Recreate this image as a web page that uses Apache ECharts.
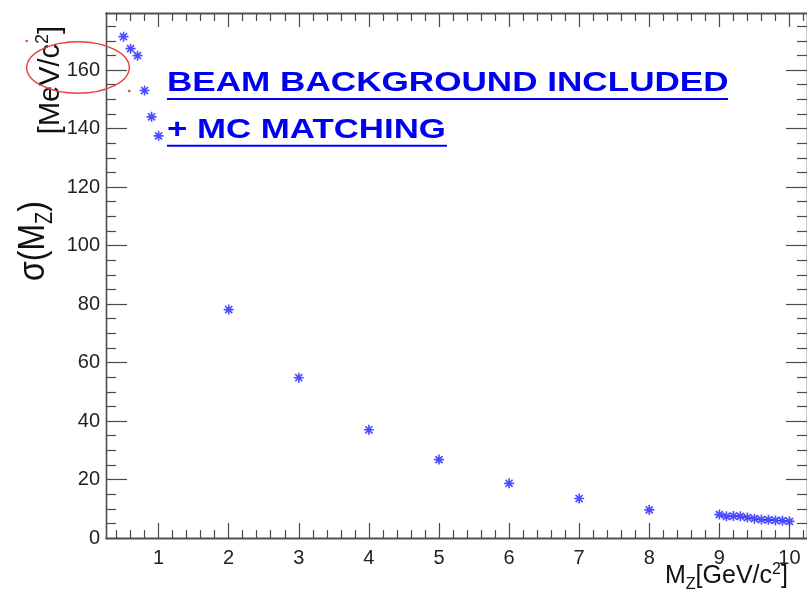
<!DOCTYPE html>
<html>
<head>
<meta charset="utf-8">
<title>sigma(M_Z) vs M_Z</title>
<script src="https://cdn.jsdelivr.net/npm/echarts@6/dist/echarts.min.js"></script>
<style>
  html, body { margin: 0; padding: 0; background: #fff; }
  #chart { width: 807px; height: 597px; }
</style>
</head>
<body>
<div id="chart"></div>
<script>
// Mass hypotheses [GeV/c^2] and the fitted resolution sigma(M_Z) [MeV/c^2]
const massValues = [0.5, 0.6, 0.7, 0.8, 0.9, 1.0, 2, 3, 4, 5, 6, 7, 8,
  9.0, 9.1, 9.2, 9.3, 9.4, 9.5, 9.6, 9.7, 9.8, 9.9, 10.0];
const sigmaValues = [171.4, 167.3, 164.9, 153.0, 144.0, 137.5, 78.1, 54.8, 37.0, 26.8, 18.7, 13.5, 9.6,
  8.0, 7.4, 7.5, 7.4, 7.0, 6.6, 6.3, 6.2, 6.0, 5.9, 5.7];

// Axis ranges and tick labels
const xRange = [0.25, 10.25];
const yRange = [0, 179.5];
const xTickLabels = [1, 2, 3, 4, 5, 6, 7, 8, 9, 10];
const yTickLabels = [0, 20, 40, 60, 80, 100, 120, 140, 160];

const FONT = '"Liberation Sans", Arial, Helvetica, sans-serif';
const AXIS_COLOR = '#4a4a4a';
const LABEL_COLOR = '#222';

// minor tick positions between the labelled ticks
function minorTicks(lo, hi, step, majorStep) {
  const out = [];
  const n = Math.round((hi - lo) / step);
  for (let i = 0; i <= n; i++) {
    const v = +(lo + i * step).toFixed(6);
    if (Math.abs(v / majorStep - Math.round(v / majorStep)) > 1e-6) out.push(v);
  }
  return out;
}
const xMinor = minorTicks(0.4, 10.2, 0.2, 1);
const yMinor = minorTicks(5, 175, 5, 20);

// ---- composite labels with sub/superscripts, aligned on a common baseline ----
const measureCtx = document.createElement('canvas').getContext('2d');
function textWidth(str, size, weight) {
  measureCtx.font = (weight || 'normal') + ' ' + size + 'px ' + FONT;
  return measureCtx.measureText(str).width;
}
const MID = 0.35; // distance from canvas 'middle' to the alphabetic baseline, in em
function composite(pieces, color, align) {
  let w = 0;
  pieces.forEach(p => { w += textWidth(p.text, p.size); });
  let x = align === 'center' ? -w / 2 : 0;
  const kids = [];
  pieces.forEach(p => {
    kids.push({
      type: 'text', x: x, y: -(p.rise || 0) - MID * p.size, silent: true,
      style: { text: p.text, fontSize: p.size, fontFamily: FONT, fill: color,
               textAlign: 'left', textVerticalAlign: 'middle' }
    });
    x += textWidth(p.text, p.size);
  });
  return kids;
}

const starPath = 'path://M-1,-6L1,-6L1,6L-1,6Z M-6,-1L6,-1L6,1L-6,1Z ' +
  'M-3.54,-4.95L4.95,3.54L3.54,4.95L-4.95,-3.54Z M4.95,-3.54L-3.54,4.95L-4.95,3.54L3.54,-4.95Z';

function xAxisDef(position, ticks, len, withLabels) {
  return {
    type: 'value', position: position, min: xRange[0], max: xRange[1],
    axisLine: { show: true, onZero: false, lineStyle: { color: AXIS_COLOR, width: 1.3 } },
    axisTick: { show: true, inside: true, length: len, customValues: ticks,
                lineStyle: { color: AXIS_COLOR, width: 1.2 } },
    axisLabel: withLabels ? { show: true, customValues: ticks, margin: 10, fontSize: 20,
                              fontFamily: FONT, color: LABEL_COLOR } : { show: false },
    splitLine: { show: false }
  };
}
function yAxisDef(position, ticks, len, withLabels) {
  return {
    type: 'value', position: position, min: yRange[0], max: yRange[1],
    axisLine: { show: true, onZero: false, lineStyle: { color: AXIS_COLOR, width: 1.3 } },
    axisTick: { show: true, inside: true, length: len, customValues: ticks,
                lineStyle: { color: AXIS_COLOR, width: 1.2 } },
    axisLabel: withLabels ? { show: true, customValues: ticks, margin: 6, fontSize: 20,
                              fontFamily: FONT, color: LABEL_COLOR } : { show: false },
    splitLine: { show: false }
  };
}

const chart = echarts.init(document.getElementById('chart'), null, { renderer: 'canvas' });

const yTitleMain = composite([
  { text: '\u03c3(M', size: 32 },
  { text: 'Z', size: 20, rise: -6 },
  { text: ')', size: 32 }
], '#111', 'center');
const yTitleUnit = composite([
  { text: '[MeV/c', size: 29 },
  { text: '2', size: 18, rise: 12 },
  { text: ']', size: 29 }
], '#111', 'center');
const xTitle = composite([
  { text: 'M', size: 25 },
  { text: 'Z', size: 16, rise: -5 },
  { text: '[GeV/c', size: 25 },
  { text: '2', size: 16, rise: 10 },
  { text: ']', size: 25 }
], '#111', 'left');

const noteStyle = { fontSize: 27, fontWeight: 'bold', fontFamily: FONT, fill: '#0000f0',
                    textAlign: 'left', textVerticalAlign: 'middle' };

chart.setOption({
  animation: false,
  backgroundColor: '#fff',
  grid: { left: 106, top: 13, width: 708, height: 525, containLabel: false },
  xAxis: [
    xAxisDef('bottom', xTickLabels, 15, true),
    xAxisDef('bottom', xMinor, 8, false),
    xAxisDef('top', xTickLabels, 14, false),
    xAxisDef('top', xMinor, 8, false)
  ],
  yAxis: [
    yAxisDef('left', yTickLabels, 21, true),
    yAxisDef('left', yMinor, 10, false),
    yAxisDef('right', yTickLabels, 21, false),
    yAxisDef('right', yMinor, 10, false)
  ],
  series: [{
    type: 'scatter',
    xAxisIndex: 0, yAxisIndex: 0,
    symbol: starPath,
    symbolSize: 10,
    itemStyle: { color: '#2020ff' },
    data: massValues.map((m, i) => [m, sigmaValues[i]])
  }],
  graphic: [
    { type: 'group', x: 47, y: 241, rotation: Math.PI / 2, scaleY: 1.15, children: yTitleMain },
    { type: 'group', x: 61, y: 80, rotation: Math.PI / 2, children: yTitleUnit },
    { type: 'group', x: 665, y: 585, children: xTitle },
    // highlight ring around the 160 label
    { type: 'ellipse', z: 100, silent: true,
      shape: { cx: 78, cy: 67.5, rx: 51.3, ry: 25.8 },
      style: { fill: 'none', stroke: '#e8403c', lineWidth: 1.4 } },
    { type: 'circle', z: 100, shape: { cx: 26.7, cy: 41, r: 1.3 }, style: { fill: '#e8403c' } },
    { type: 'circle', z: 100, shape: { cx: 129.3, cy: 91, r: 1.3 }, style: { fill: '#e8403c' } },
    // note text
    { type: 'text', z: 100, x: 167, y: 92.8 - MID * 27, scaleX: 1.3,
      style: Object.assign({ text: 'BEAM BACKGROUND INCLUDED' }, noteStyle) },
    { type: 'text', z: 100, x: 167, y: 139.5 - MID * 27, scaleX: 1.29,
      style: Object.assign({ text: '+ MC MATCHING' }, noteStyle) },
    { type: 'line', z: 100, shape: { x1: 167, y1: 99, x2: 728, y2: 99 },
      style: { stroke: '#0000f0', lineWidth: 2 } },
    { type: 'line', z: 100, shape: { x1: 167, y1: 145.7, x2: 447, y2: 145.7 },
      style: { stroke: '#0000f0', lineWidth: 2 } }
  ]
});
</script>
</body>
</html>
